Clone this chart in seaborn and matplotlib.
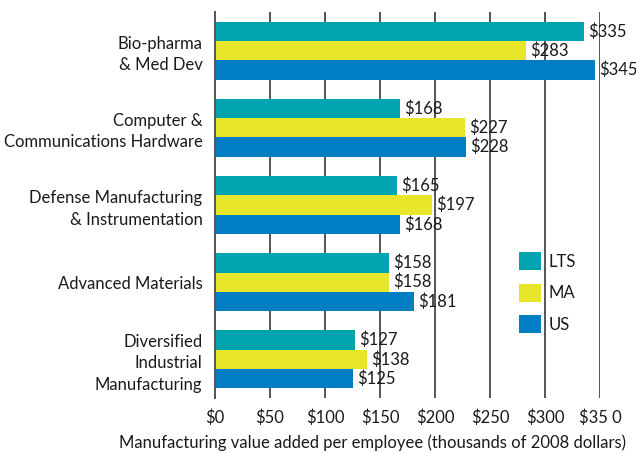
import pandas as pd
import matplotlib.pyplot as plt
import seaborn as sns

# values (thousands of 2008 dollars)
industries = ["Bio-pharma\n& Med Dev",
              "Computer &\nCommunications Hardware",
              "Defense Manufacturing\n& Instrumentation",
              "Advanced Materials",
              "Diversified\nIndustrial\nManufacturing"]
lts = [335, 168, 165, 158, 127]
ma = [283, 227, 197, 158, 138]
us = [345, 228, 168, 181, 125]
series = ["LTS", "MA", "US"]
colors = ["#00A3AE", "#E8E62A", "#007DC3"]
xticks = [0, 50, 100, 150, 200, 250, 300, 350]
xticklabels = ["$0", "$50", "$100", "$150", "$200", "$250", "$300", "$35 0"]

rows = []
for name, vals in zip(series, [lts, ma, us]):
    for ind, v in zip(industries, vals):
        rows.append({"industry": ind, "series": name, "value": v})
df = pd.DataFrame(rows)

sns.set_style("white")
plt.rcParams['font.family'] = ['Lato', 'DejaVu Sans']
text_color = "#1a1a1a"
fs = 12

fig = plt.figure(figsize=(6.36, 4.53), dpi=100)
ax = fig.add_axes([215 / 636, 1 - 398 / 453, 385 / 636, 386 / 453])

sns.barplot(data=df, y="industry", x="value", hue="series", orient="h",
            palette=colors, width=0.75, saturation=1, linewidth=0, ax=ax)

# value labels next to each bar
for cont in ax.containers:
    ax.bar_label(cont, labels=[f"${v:.0f}" for v in cont.datavalues],
                 padding=3, fontsize=fs, color=text_color)

ax.set_xlim(0, 350)
ax.set_ylim(4.5, -0.5)
ax.set_xticks(xticks)
ax.set_xticklabels(xticklabels)
ax.grid(axis="x", color="#555555", linewidth=1.4)
ax.grid(axis="y", visible=False)
ax.set_axisbelow(True)

for s in ["top", "right", "bottom"]:
    ax.spines[s].set_visible(False)
ax.spines["left"].set_color("#555555")
ax.spines["left"].set_linewidth(1.4)

ax.tick_params(axis="y", length=0, pad=9, labelsize=fs, labelcolor=text_color)
ax.tick_params(axis="x", length=0, pad=8, labelsize=fs, labelcolor=text_color)
for lab in ax.get_yticklabels():
    lab.set_multialignment("right")
    lab.set_linespacing(1.4)

ax.set_ylabel("")
ax.set_xlabel("Manufacturing value added per employee (thousands of 2008 dollars)",
              fontsize=fs, color=text_color, ha="right", va="center")
ax.xaxis.set_label_coords((626 - 215) / 385, (398 - 443) / 386)

ax.legend(title=None, frameon=False, loc="upper left",
          bbox_to_anchor=((519 - 215) / 385, (398 - 252) / 386), fontsize=fs,
          handlelength=1.3, handleheight=1.3, handletextpad=0.5,
          labelspacing=0.8, borderpad=0, borderaxespad=0,
          labelcolor=text_color)

fig.savefig("out.png", dpi=100)
